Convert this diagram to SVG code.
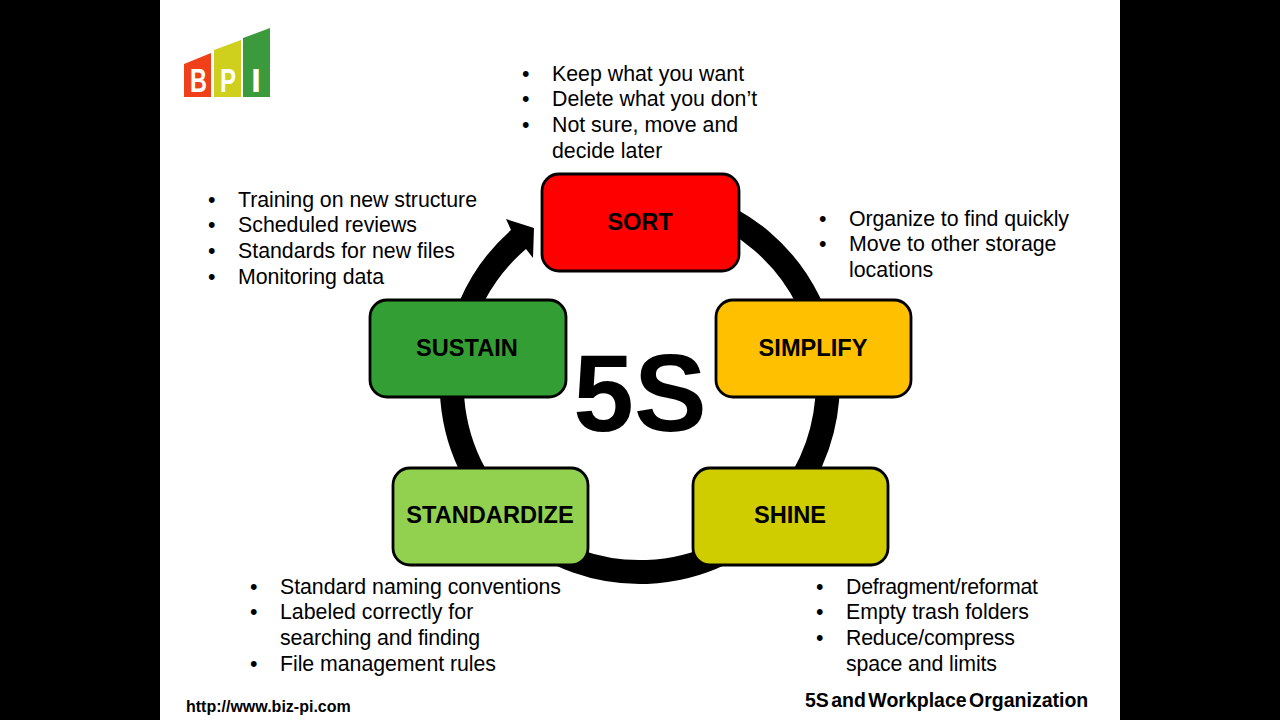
<svg xmlns="http://www.w3.org/2000/svg" width="1280" height="720" viewBox="0 0 1280 720">
<style>
text{font-family:"Liberation Sans",Arial,sans-serif;fill:#000}
.b{font-size:21.33px}
.n{font-size:23.6px;font-weight:bold;text-anchor:middle}
.box{stroke:#000;stroke-width:2.8}
.ring{fill:none;stroke:#000;stroke-width:24}
.l{font-size:33px;font-weight:bold;fill:#fff}
</style>
<rect width="1280" height="720" fill="#000"/>
<rect x="160" width="960" height="720" fill="#fff"/>
<g id="logo">
<path d="M184 64L211 53V97H184Z" fill="#f0401a"/>
<path d="M214 50L241 40V97H214Z" fill="#cfcf1e"/>
<path d="M243 38L270 28V97H243Z" fill="#3a9a3c"/>
<text class="l" x="190" y="92" textLength="17" lengthAdjust="spacingAndGlyphs">B</text>
<text class="l" x="220" y="92" textLength="16" lengthAdjust="spacingAndGlyphs">P</text>
<text class="l" x="251" y="92" textLength="10" lengthAdjust="spacingAndGlyphs">I</text>
</g>
<g id="connectors">
<path class="ring" d="M700 206A188 188 0 1 1 463 320"/>
<path d="M460 300A200 200 0 0 1 511 230L506 219L534 228L533 258L526 249A176 176 0 0 0 485 300Z" fill="#000"/>
</g>
<g id="sort"><rect class="box" x="542" y="174" width="197" height="97" rx="17" fill="#ff0000"/><text class="n" x="640" y="230">SORT</text></g>
<g id="simplify"><rect class="box" x="716" y="300" width="195" height="97" rx="17" fill="#ffc000"/><text class="n" x="813" y="356">SIMPLIFY</text></g>
<g id="shine"><rect class="box" x="693" y="468" width="195" height="97" rx="17" fill="#cfcd00"/><text class="n" x="790" y="523">SHINE</text></g>
<g id="standardize"><rect class="box" x="393" y="468" width="195" height="97" rx="17" fill="#92d050"/><text class="n" x="490" y="523">STANDARDIZE</text></g>
<g id="sustain"><rect class="box" x="370" y="300" width="196" height="97" rx="17" fill="#339e33"/><text class="n" x="467" y="356">SUSTAIN</text></g>
<text x="640" y="431" font-size="109" font-weight="bold" text-anchor="middle">5S</text>
<g id="notes">
<text class="b" x="522" y="81">•</text><text class="b" x="552" y="81">Keep what you want</text>
<text class="b" x="522" y="106">•</text><text class="b" x="552" y="106">Delete what you don’t</text>
<text class="b" x="522" y="132">•</text><text class="b" x="552" y="132">Not sure, move and</text>
<text class="b" x="552" y="158">decide later</text>
<text class="b" x="819" y="226">•</text><text class="b" x="849" y="226" textLength="220">Organize to find quickly</text>
<text class="b" x="819" y="251">•</text><text class="b" x="849" y="251">Move to other storage</text>
<text class="b" x="849" y="277">locations</text>
<text class="b" x="816" y="594">•</text><text class="b" x="846" y="594" textLength="192">Defragment/reformat</text>
<text class="b" x="816" y="619">•</text><text class="b" x="846" y="619" textLength="183">Empty trash folders</text>
<text class="b" x="816" y="645">•</text><text class="b" x="846" y="645" textLength="169">Reduce/compress</text>
<text class="b" x="846" y="671" textLength="151">space and limits</text>
<text class="b" x="250" y="594">•</text><text class="b" x="280" y="594" textLength="281">Standard naming conventions</text>
<text class="b" x="250" y="619">•</text><text class="b" x="280" y="619">Labeled correctly for</text>
<text class="b" x="280" y="645" textLength="200">searching and finding</text>
<text class="b" x="250" y="671">•</text><text class="b" x="280" y="671" textLength="216">File management rules</text>
<text class="b" x="208" y="207">•</text><text class="b" x="238" y="207" textLength="239">Training on new structure</text>
<text class="b" x="208" y="232">•</text><text class="b" x="238" y="232" textLength="179">Scheduled reviews</text>
<text class="b" x="208" y="258">•</text><text class="b" x="238" y="258">Standards for new files</text>
<text class="b" x="208" y="284">•</text><text class="b" x="238" y="284" textLength="146">Monitoring data</text>
</g>
<text x="186" y="712" font-size="16" font-weight="bold">http://www.biz-pi.com</text>
<text x="805" y="707" font-size="19.5" font-weight="bold" word-spacing="-3">5S and Workplace Organization</text>
</svg>
